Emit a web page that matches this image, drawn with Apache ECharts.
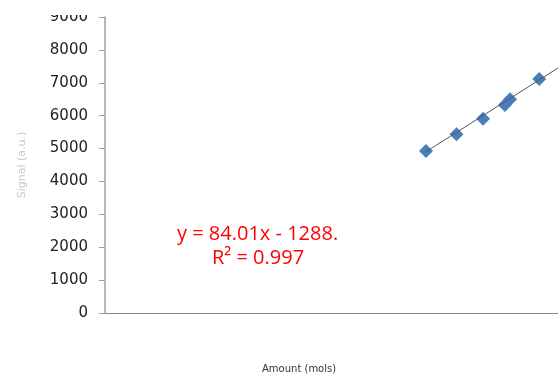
<!DOCTYPE html>
<html>
<head>
<meta charset="utf-8">
<script src="https://cdn.jsdelivr.net/npm/echarts@6/dist/echarts.min.js"></script>
<style>
  html, body { margin: 0; padding: 0; background: #fff; }
  #chart { width: 558px; height: 377px; }
</style>
</head>
<body>
<div id="chart"></div>
<script>
// measured points
const xValues = [73.7, 80.7, 86.8, 91.8, 93.0, 99.7];
const yValues = [4925, 5433, 5908, 6324, 6500, 7115];

// trendline as printed on the chart
const slope = 84.01;
const intercept = -1288;
const trendRange = [73.7, 104];

const yTicks = [0, 1000, 2000, 3000, 4000, 5000, 6000, 7000, 8000, 9000];

const chart = echarts.init(document.getElementById("chart"));

const option = {
  backgroundColor: "#fff",
  animation: false,
  grid: {
    left: 105,
    right: 0,
    top: 17,
    bottom: 64,
    outerBoundsMode: "none",
  },
  xAxis: {
    type: "value",
    min: 0,
    max: 104,
    axisLine: { show: true, onZero: false, lineStyle: { color: "#888", width: 1 } },
    axisTick: { show: false },
    axisLabel: { show: false },
    splitLine: { show: false },
  },
  yAxis: {
    type: "value",
    min: yTicks[0],
    max: yTicks[yTicks.length - 1],
    interval: 1000,
    name: "Signal (a.u.)",
    nameLocation: "middle",
    nameGap: 77,
    nameTextStyle: { color: "#c8c8c8", fontSize: 11, fontFamily: "DejaVu Sans" },
    axisLine: { show: true, lineStyle: { color: "#a0a0a0", width: 1.5 } },
    axisTick: { show: true, inside: false, length: 6, lineStyle: { color: "#a0a0a0" } },
    axisLabel: {
      margin: 17,
      color: "#222",
      fontSize: 15,
      fontFamily: "DejaVu Sans",
      formatter: (v) => String(v),
    },
    splitLine: { show: false },
  },
  series: [
    {
      type: "line",
      data: trendRange.map((x) => [x, slope * x + intercept]),
      symbol: "none",
      lineStyle: { color: "#555", width: 1 },
      z: 3,
    },
    {
      type: "scatter",
      data: xValues.map((x, i) => [x, yValues[i]]),
      symbol: "diamond",
      symbolSize: [14, 14],
      itemStyle: { color: "#4A7EBB", opacity: 1 },
      z: 2,
    },
  ],
  graphic: [
    {
      type: "rect",
      left: 0,
      top: 0,
      shape: { width: 558, height: 15 },
      style: { fill: "#fff" },
      z: 100,
    },
    {
      type: "text",
      left: 177,
      top: 224,
      style: {
        text: "y = 84.01x - 1288.",
        fill: "#ff0000",
        fontSize: 20,
        fontFamily: "Open Sans",
      },
    },
    {
      type: "text",
      left: 212,
      top: 248,
      style: {
        text: "R² = 0.997",
        fill: "#ff0000",
        fontSize: 20,
        fontFamily: "Open Sans",
      },
    },
    {
      type: "text",
      left: 262,
      top: 364,
      style: {
        text: "Amount (mols)",
        fill: "#333",
        fontSize: 10,
        fontFamily: "DejaVu Sans",
      },
    },
  ],
};

chart.setOption(option);
</script>
</body>
</html>
